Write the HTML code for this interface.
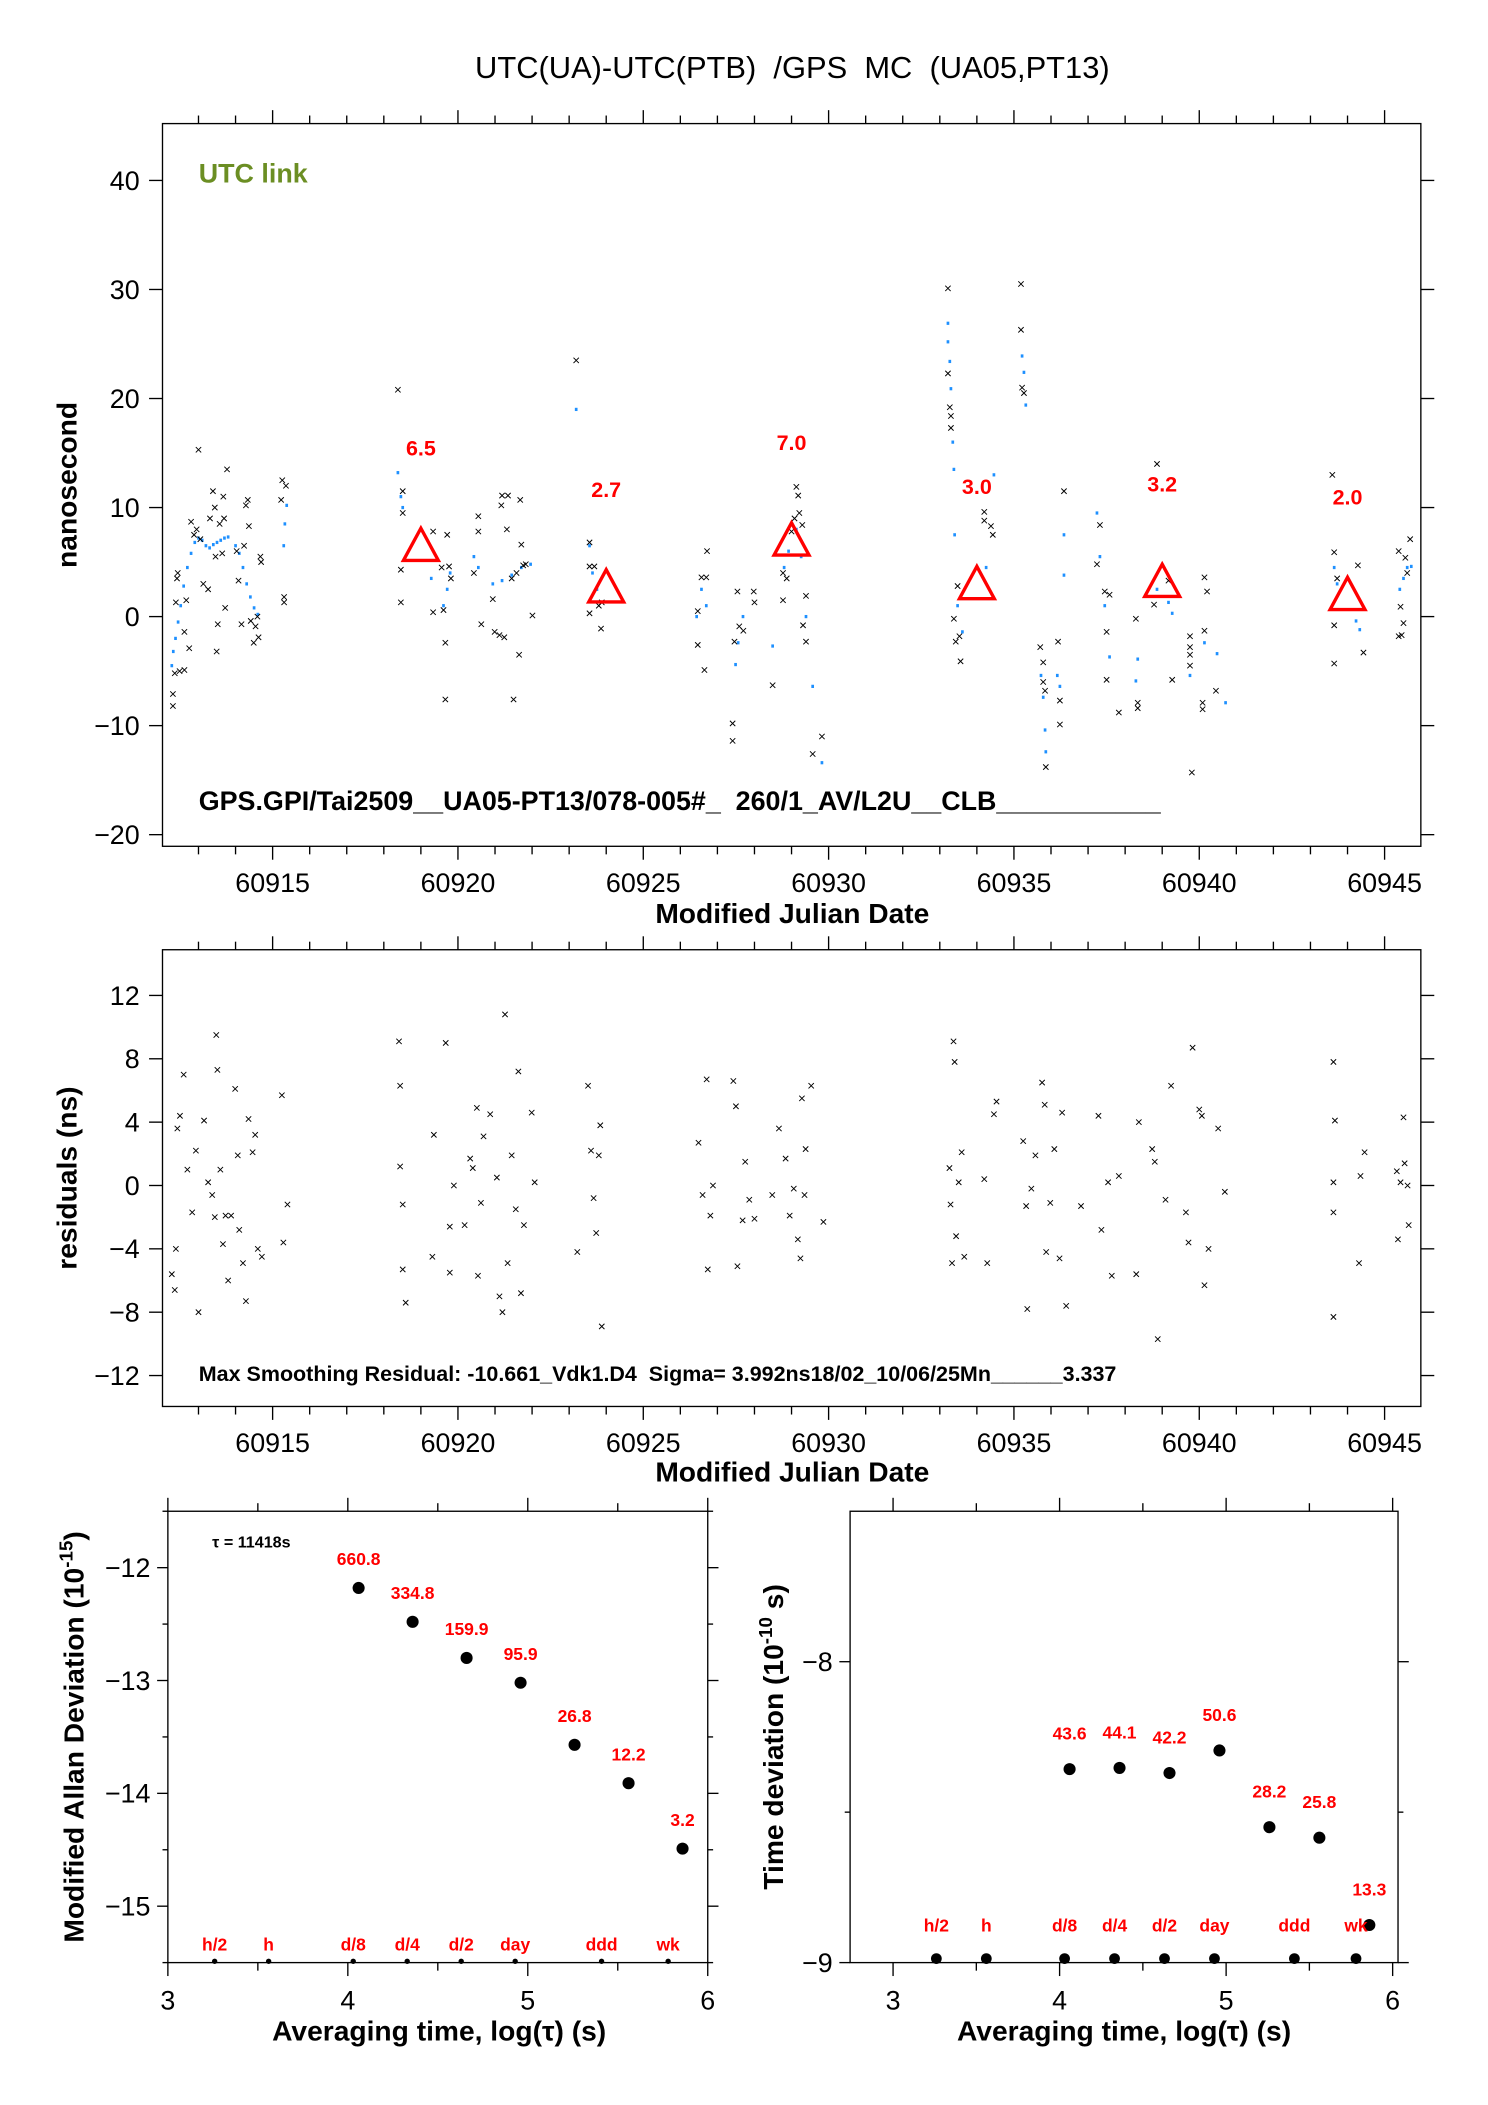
<!DOCTYPE html>
<html><head><meta charset="utf-8"><style>
html,body{margin:0;padding:0;background:#fff}
svg{display:block}
text{font-family:"Liberation Sans",sans-serif;white-space:pre}
</style></head><body>
<svg id="chart" width="1488" height="2105" viewBox="0 0 1108 1567" preserveAspectRatio="none" xmlns="http://www.w3.org/2000/svg" xml:space="preserve">
<rect width="1108" height="1567" fill="#fff"/>
<text x="590" y="58" font-size="23" text-anchor="middle">UTC(UA)-UTC(PTB)  /GPS  MC  (UA05,PT13)</text>
</svg>
<script>
// ---- data (offsets from MJD 60915) ----
const topBlack=[[-2.69,-8.2],[-2.69,-7.1],[-2.64,-5.2],[-2.61,1.3],[-2.58,3.5],[-2.56,4.0],[-2.51,-5.0],[-2.38,-4.9],[-2.38,-1.4],[-2.33,1.5],[-2.25,-2.9],[-2.2,8.7],[-2.12,7.5],[-2.05,8.0],[-2.0,15.3],[-1.95,7.1],[-1.87,3.0],[-1.74,2.5],[-1.69,9.0],[-1.61,11.5],[-1.56,10.0],[-1.54,5.5],[-1.51,-3.2],[-1.48,-0.7],[-1.43,8.5],[-1.36,5.8],[-1.33,11.0],[-1.31,9.0],[-1.28,0.8],[-1.23,13.5],[-0.97,6.0],[-0.92,3.3],[-0.84,-0.7],[-0.77,6.5],[-0.72,10.2],[-0.67,10.7],[-0.64,8.3],[-0.59,-0.4],[-0.51,-2.4],[-0.46,-0.9],[-0.41,0],[-0.38,-1.9],[-0.33,5.5],[-0.31,5.0],[0.26,12.5],[0.31,1.3],[0.31,1.8],[0.36,12.0],[0.23,10.7],
[3.38,20.8],[3.46,4.3],[3.46,1.3],[3.51,11.5],[3.51,9.5],[4.33,7.8],[4.33,0.4],[4.56,4.5],[4.66,-2.4],[4.66,-7.6],[4.61,0.6],[4.76,4.6],[4.71,7.5],[4.81,3.5],[5.43,4.0],[5.55,9.2],[5.55,7.8],[5.63,-0.7],[5.94,1.6],[5.99,-1.4],[6.12,-1.7],[6.17,10.2],[6.19,11.1],[6.25,-1.9],[6.32,8.0],[6.35,11.1],[6.45,3.5],[6.5,-7.6],[6.58,4.0],[6.65,-3.5],[6.68,10.7],[6.71,6.6],[6.76,4.7],[6.83,4.8],[7.01,0.1],
[8.19,23.5],[8.55,6.8],[8.55,4.6],[8.68,4.6],[8.55,0.3],[8.8,1.0],[8.88,1.3],[8.86,-1.1],
[11.47,0.5],[11.47,-2.6],[11.57,3.6],[11.7,3.6],[11.65,-4.9],[11.72,6.0],[12.41,-9.8],[12.41,-11.4],[12.46,-2.3],[12.54,2.3],[12.59,-0.9],[12.7,-1.3],[12.98,2.3],[13.0,1.3],[13.49,-6.3],[13.77,1.5],[13.77,4.0],[13.87,3.5],[14.0,7.8],[14.08,9.0],[14.13,11.9],[14.18,11.1],[14.21,9.5],[14.29,8.4],[14.31,-0.8],[14.39,-2.3],[14.39,1.9],[14.57,-12.6],[14.82,-11.0],
[18.22,30.1],[18.22,22.3],[18.27,19.2],[18.3,18.4],[18.3,17.3],[18.38,-0.2],[18.43,-2.3],[18.53,-1.8],[18.56,-4.1],[18.48,2.8],[19.2,9.6],[19.2,8.8],[19.38,8.3],[19.43,7.5],[20.19,30.5],[20.19,26.3],[20.22,21.0],[20.27,20.5],
[20.71,-2.8],[20.79,-4.2],[20.79,-6],[20.84,-6.8],[20.86,-13.8],[21.19,-2.3],[21.24,-7.7],[21.24,-9.9],[21.35,11.5],[22.24,4.8],[22.32,8.4],[22.45,2.3],[22.5,-1.4],[22.58,2.0],[22.5,-5.8],[22.83,-8.8],[23.34,-7.9],[23.34,-8.4],[23.29,-0.2],[23.78,1.1],[23.86,14.0],[24.17,3.3],[24.27,-5.8],[24.75,-1.8],[24.75,-2.8],[24.75,-3.5],[24.75,-4.5],[24.8,-14.3],[25.14,3.6],[25.14,-1.3],[25.21,2.3],[25.09,-7.9],[25.09,-8.5],[25.45,-6.8],
[28.59,13],[28.64,5.9],[28.64,-0.8],[28.64,-4.3],[28.72,3.5],[29.28,4.7],[29.43,-3.3],[30.38,6.0],[30.43,0.9],[30.46,-1.7],[30.51,-0.6],[30.56,5.4],[30.61,4.0],[30.69,7.1],[30.38,-1.8]];
const topBlue=[[-2.72,-4.5],[-2.68,-3.2],[-2.62,-2.0],[-2.55,-0.5],[-2.48,1.0],[-2.4,2.8],[-2.3,4.5],[-2.2,5.8],[-2.1,6.8],[-2.0,7.2],[-1.9,7.0],[-1.8,6.5],[-1.7,6.3],[-1.6,6.6],[-1.5,6.8],[-1.4,7.0],[-1.3,7.2],[-1.2,7.3],[-1.0,6.5],[-0.9,5.8],[-0.8,4.5],[-0.7,3.0],[-0.6,1.8],[-0.5,0.8],[-0.4,0.2],[0.3,6.5],[0.33,8.5],[0.38,10.2],
[3.38,13.2],[3.46,11],[3.51,10],[4.28,3.5],[4.61,1],[4.71,2.5],[4.79,4.0],[5.43,5.5],[5.55,4.5],[5.94,3.0],[6.19,3.3],[6.45,3.8],[6.71,4.5],[6.96,4.8],
[8.19,19.0],[8.55,6.5],[8.63,4.0],[8.75,2.5],
[11.44,0],[11.57,2.5],[11.7,1.0],[12.49,-4.4],[12.56,-2.4],[12.69,0],[13.49,-2.7],[13.8,4.5],[13.92,6.0],[14.13,8.0],[14.26,5.5],[14.39,0],[14.57,-6.4],[14.82,-13.4],
[18.22,26.9],[18.22,25.2],[18.27,23.4],[18.3,20.9],[18.35,16],[18.38,13.5],[18.4,7.5],[18.48,1],[18.61,-1.4],[19.25,4.5],[19.46,13],[20.22,23.9],[20.27,22.4],[20.32,19.4],
[20.73,-5.4],[20.79,-7.4],[20.84,-10.4],[20.86,-12.4],[21.17,-5.4],[21.24,-6.4],[21.35,7.5],[21.35,3.8],[22.24,9.5],[22.32,5.5],[22.45,1.0],[22.58,-3.7],[23.34,-3.9],[23.29,-5.9],[23.86,2.5],[24.17,1.3],[24.27,0.3],[24.75,-5.4],[25.14,-2.4],[25.48,-3.4],[25.71,-7.9],
[28.64,4.5],[28.72,3.0],[29.23,-0.4],[29.33,-1.2],[30.41,2.5],[30.51,3.5],[30.61,4.5],[30.72,4.6]];
const triDays=[4,9,14,19,24,29];
const triVals=[6.5,2.7,7.0,3.0,3.2,2.0];
const triLabels=["6.5","2.7","7.0","3.0","3.2","2.0"];
const resid=[[-2.72,-5.6],[-2.64,-6.6],[-2.61,-4],[-2.57,3.6],[-2.5,4.4],[-2.4,7],[-2.3,1],[-2.17,-1.7],[-2.07,2.2],[-2,-8],[-1.85,4.1],[-1.74,0.2],[-1.63,-0.6],[-1.56,-2],[-1.52,9.5],[-1.49,7.3],[-1.41,1],[-1.34,-3.7],[-1.27,-1.9],[-1.2,-6],[-1.12,-1.9],[-1.01,6.1],[-0.94,1.9],[-0.9,-2.8],[-0.8,-4.9],[-0.72,-7.3],[-0.65,4.2],[-0.54,2.1],[-0.47,3.2],[-0.4,-4],[-0.29,-4.5],[0.25,5.7],[0.29,-3.6],[0.4,-1.2],
[3.41,9.1],[3.44,6.3],[3.44,1.2],[3.51,-1.2],[3.51,-5.3],[3.59,-7.4],[4.31,-4.5],[4.35,3.2],[4.67,9],[4.78,-2.6],[4.78,-5.5],[4.89,0],[5.18,-2.5],[5.33,1.7],[5.4,1.1],[5.51,4.9],[5.54,-5.7],[5.62,-1.1],[5.69,3.1],[5.87,4.5],[6.05,0.5],[6.12,-7],[6.2,-8],[6.27,10.8],[6.34,-4.9],[6.45,1.9],[6.56,-1.5],[6.63,7.2],[6.7,-6.8],[6.78,-2.5],[6.99,4.6],[7.07,0.2],
[8.22,-4.2],[8.51,6.3],[8.59,2.2],[8.66,-0.8],[8.73,-3],[8.8,1.9],[8.84,3.8],[8.88,-8.9],
[11.49,2.7],[11.6,-0.6],[11.71,6.7],[11.74,-5.3],[11.81,-1.9],[11.88,0],[12.43,6.6],[12.5,5],[12.54,-5.1],[12.68,-2.2],[12.75,1.5],[12.86,-0.9],[13,-2.1],[13.48,-0.6],[13.66,3.6],[13.84,1.7],[13.95,-1.9],[14.06,-0.2],[14.17,-3.4],[14.24,-4.6],[14.28,5.5],[14.35,-0.6],[14.38,2.3],[14.53,6.3],[14.86,-2.3],
[18.26,1.1],[18.29,-1.2],[18.33,-4.9],[18.37,9.1],[18.4,7.8],[18.44,-3.2],[18.51,0.2],[18.59,2.1],[18.66,-4.5],[19.2,0.4],[19.28,-4.9],[19.46,4.5],[19.53,5.3],[20.25,2.8],[20.33,-1.3],[20.36,-7.8],[20.47,-0.2],[20.58,1.9],[20.76,6.5],[20.83,5.1],[20.87,-4.2],[20.98,-1.1],[21.09,2.3],[21.23,-4.6],[21.3,4.6],[21.41,-7.6],[21.81,-1.3],[22.28,4.4],[22.36,-2.8],[22.54,0.2],[22.64,-5.7],[22.83,0.6],[23.3,-5.6],[23.37,4.0],[23.73,2.3],[23.8,1.5],[23.88,-9.7],[24.09,-0.9],[24.24,6.3],[24.64,-1.7],[24.71,-3.6],[24.82,8.7],[25,4.8],[25.07,4.4],[25.14,-6.3],[25.25,-4],[25.51,3.6],[25.69,-0.4],
[28.62,7.8],[28.66,4.1],[28.62,0.2],[28.62,-1.7],[28.62,-8.3],[29.31,-4.9],[29.35,0.6],[29.46,2.1],[30.33,0.9],[30.36,-3.4],[30.43,0.2],[30.51,4.3],[30.54,1.4],[30.62,0],[30.65,-2.5]];
const adevX=[4.06,4.36,4.66,4.96,5.26,5.56,5.86];
const adevY=[-12.18,-12.48,-12.80,-13.02,-13.57,-13.91,-14.49];
const adevLabels=["660.8","334.8","159.9","95.9","26.8","12.2","3.2"];
const tdevX=[4.06,4.36,4.66,4.96,5.26,5.56,5.86];
const tdevY=[-8.357,-8.353,-8.37,-8.295,-8.55,-8.585,-8.875];
const tdevLabels=["43.6","44.1","42.2","50.6","28.2","25.8","13.3"];
const markX=[3.26,3.56,4.03,4.33,4.63,4.93,5.41,5.78];
const markLabels=["h/2","h","d/8","d/4","d/2","day","ddd","wk"];
const mjdTicks=[60915,60920,60925,60930,60935,60940,60945];

const svg=document.getElementById('chart');
const NS='http://www.w3.org/2000/svg';
function el(tag,attrs,parent){const e=document.createElementNS(NS,tag);for(const k in attrs)e.setAttribute(k,attrs[k]);(parent||svg).appendChild(e);return e;}
function txt(s,attrs,parent){const e=el('text',attrs,parent);e.textContent=s;return e;}

const mx=d=>203+(d-60915)*27.6;
const ty=v=>459-v*8.117;
const my=v=>882.5-v*11.79;

function frame(x0,y0,x1,y1,name){const r=el('rect',{x:x0,y:y0,width:x1-x0,height:y1-y0,fill:'none',stroke:'#000','stroke-width':1});}
function mjdAxis(y0,y1,g){
 for(let d=60913;d<=60945;d++){const x=mx(d);const L=(d%5===0)?10:6;
  el('line',{x1:x,y1:y1,x2:x,y2:y1+L,stroke:'#000'},g);el('line',{x1:x,y1:y0,x2:x,y2:y0-L,stroke:'#000'},g);}
 mjdTicks.forEach(d=>{const t=txt(String(d),{x:mx(d),y:y1+34,'font-size':20,'text-anchor':'middle'},g);});
}
// ---------- top plot ----------
const gTop=el('g',{});
frame(121,92,1058,630,'top-plot-frame');
mjdAxis(92,630,gTop);
[40,30,20,10,0,-10,-20].forEach(v=>{const y=ty(v);el('line',{x1:121,y1:y,x2:111,y2:y,stroke:'#000'},gTop);el('line',{x1:1058,y1:y,x2:1068,y2:y,stroke:'#000'},gTop);
 const t=txt(v<0?'\u2212'+(-v):String(v),{x:104,y:y+7,'font-size':20,'text-anchor':'end'},gTop);});
let t=txt('nanosecond',{x:0,y:0,'font-size':21,'font-weight':'bold',transform:'translate(57,361) rotate(-90)','text-anchor':'middle'},gTop);
t=txt('Modified Julian Date',{x:590,y:687,'font-size':21,'font-weight':'bold','text-anchor':'middle'},gTop);
t=txt('UTC link',{x:148,y:136,'font-size':20,'font-weight':'bold',fill:'#6b8e23'},gTop);
t=txt('GPS.GPI/Tai2509__UA05-PT13/078-005#_  260/1_AV/L2U__CLB___________',{x:148,y:603,'font-size':20,'font-weight':'bold'},gTop);
topBlue.forEach(p=>{const c=el('rect',{x:mx(60915+p[0])-1,y:ty(p[1])-1.2,width:2,height:2.4,fill:'#1e90ff'},gTop);});
function cross(x,y,s,g,name){const p=el('path',{d:`M${x-s},${y-s}L${x+s},${y+s}M${x-s},${y+s}L${x+s},${y-s}`,stroke:'#000','stroke-width':0.7},g);}
topBlack.forEach(p=>cross(mx(60915+p[0]),ty(p[1]),2,gTop,'black-point'));
triDays.forEach((d,i)=>{const x=mx(60915+d),y=ty(triVals[i]);
 const tr=el('path',{d:`M${x},${y-13}L${x+13},${y+11}L${x-13},${y+11}Z`,fill:'none',stroke:'#ff0000','stroke-width':2.5},gTop);
 const l=txt(triLabels[i],{x:x,y:ty(triVals[i]+9)+6,'font-size':16,'font-weight':'bold',fill:'#ff0000','text-anchor':'middle'},gTop);});

// ---------- residual plot ----------
const gMid=el('g',{});
frame(121,707,1058,1047,'residual-plot-frame');
mjdAxis(707,1047,gMid);
[12,8,4,0,-4,-8,-12].forEach(v=>{const y=my(v);el('line',{x1:121,y1:y,x2:111,y2:y,stroke:'#000'},gMid);el('line',{x1:1058,y1:y,x2:1068,y2:y,stroke:'#000'},gMid);
 const t=txt(v<0?'\u2212'+(-v):String(v),{x:104,y:y+7,'font-size':20,'text-anchor':'end'},gMid);});
t=txt('residuals (ns)',{x:0,y:0,'font-size':21,'font-weight':'bold',transform:'translate(57,877) rotate(-90)','text-anchor':'middle'},gMid);
t=txt('Modified Julian Date',{x:590,y:1103,'font-size':21,'font-weight':'bold','text-anchor':'middle'},gMid);
t=txt('Max Smoothing Residual: -10.661_Vdk1.D4  Sigma= 3.992ns18/02_10/06/25Mn______3.337',{x:148,y:1028,'font-size':16,'font-weight':'bold'},gMid);
resid.forEach(p=>cross(mx(60915+p[0]),my(p[1]),2,gMid,'residual-point'));

// ---------- ADEV ----------
const gA=el('g',{});
const ax=v=>125+(v-3)*134, ay=v=>1167-(v+12)*84;
frame(125,1125,527,1461,'adev-frame');
for(let v=3;v<=6;v+=0.5){const x=ax(v);const L=(v%1===0)?10:6;el('line',{x1:x,y1:1461,x2:x,y2:1461+L,stroke:'#000'},gA);el('line',{x1:x,y1:1125,x2:x,y2:1125-L,stroke:'#000'},gA);}
[3,4,5,6].forEach(v=>{const t=txt(String(v),{x:ax(v),y:1496,'font-size':20,'text-anchor':'middle'},gA);});
for(let v=-15.5;v<=-11.5;v+=0.5){const y=ay(v);const L=(v%1===0)?8:4;el('line',{x1:125,y1:y,x2:125-L,y2:y,stroke:'#000'},gA);el('line',{x1:527,y1:y,x2:527+L,y2:y,stroke:'#000'},gA);}
[-12,-13,-14,-15].forEach(v=>{const t=txt('\u2212'+(-v),{x:112,y:ay(v)+7,'font-size':20,'text-anchor':'end'},gA);});
t=el('text',{x:0,y:0,'font-size':21,'font-weight':'bold',transform:'translate(62,1293) rotate(-90)','text-anchor':'middle'},gA);t.innerHTML='Modified Allan Deviation (10<tspan dy="-8" font-size="14">-15</tspan><tspan dy="8">)</tspan>';
t=txt('Averaging time, log(\u03c4) (s)',{x:327,y:1519,'font-size':21,'font-weight':'bold','text-anchor':'middle'},gA);
t=txt('\u03c4 = 11418s',{x:158,y:1152,'font-size':12,'font-weight':'bold'},gA);
adevX.forEach((v,i)=>{const c=el('circle',{cx:ax(v),cy:ay(adevY[i]),r:4.5,fill:'#000'},gA);
 const l=txt(adevLabels[i],{x:ax(v),y:ay(adevY[i])-17,'font-size':13,'font-weight':'bold',fill:'#ff0000','text-anchor':'middle'},gA);});
markX.forEach((v,i)=>{const c=el('circle',{cx:ax(v),cy:1460,r:2,fill:'#000'},gA);
 const l=txt(markLabels[i],{x:ax(v),y:1452,'font-size':13,'font-weight':'bold',fill:'#ff0000','text-anchor':'middle'},gA);});

// ---------- TDEV ----------
const gT=el('g',{});
const bx=v=>665+(v-3)*124, by=v=>1237-(v+8)*224;
frame(633,1125,1041,1461,'tdev-frame');
for(let v=3;v<=6;v+=0.5){const x=bx(v);const L=(v%1===0)?10:6;el('line',{x1:x,y1:1461,x2:x,y2:1461+L,stroke:'#000'},gT);el('line',{x1:x,y1:1125,x2:x,y2:1125-L,stroke:'#000'},gT);}
[3,4,5,6].forEach(v=>{const t=txt(String(v),{x:bx(v),y:1496,'font-size':20,'text-anchor':'middle'},gT);});
[-9,-8.5,-8].forEach(v=>{const y=by(v);const L=(v%1===0)?8:4;el('line',{x1:633,y1:y,x2:633-L,y2:y,stroke:'#000'},gT);el('line',{x1:1041,y1:y,x2:1041+L,y2:y,stroke:'#000'},gT);});
[-8,-9].forEach(v=>{const t=txt('\u2212'+(-v),{x:620,y:by(v)+7,'font-size':20,'text-anchor':'end'},gT);});
t=el('text',{x:0,y:0,'font-size':21,'font-weight':'bold',transform:'translate(583,1293) rotate(-90)','text-anchor':'middle'},gT);t.innerHTML='Time deviation (10<tspan dy="-8" font-size="14">-10</tspan><tspan dy="8"> s)</tspan>';
t=txt('Averaging time, log(\u03c4) (s)',{x:837,y:1519,'font-size':21,'font-weight':'bold','text-anchor':'middle'},gT);
tdevX.forEach((v,i)=>{const c=el('circle',{cx:bx(v),cy:by(tdevY[i]),r:4.5,fill:'#000'},gT);
 const l=txt(tdevLabels[i],{x:bx(v),y:by(tdevY[i])-22,'font-size':13,'font-weight':'bold',fill:'#ff0000','text-anchor':'middle'},gT);});
markX.forEach((v,i)=>{const c=el('circle',{cx:bx(v),cy:1458,r:4,fill:'#000'},gT);
 const l=txt(markLabels[i],{x:bx(v),y:1438,'font-size':13,'font-weight':'bold',fill:'#ff0000','text-anchor':'middle'},gT);});
</script>
</body></html>
